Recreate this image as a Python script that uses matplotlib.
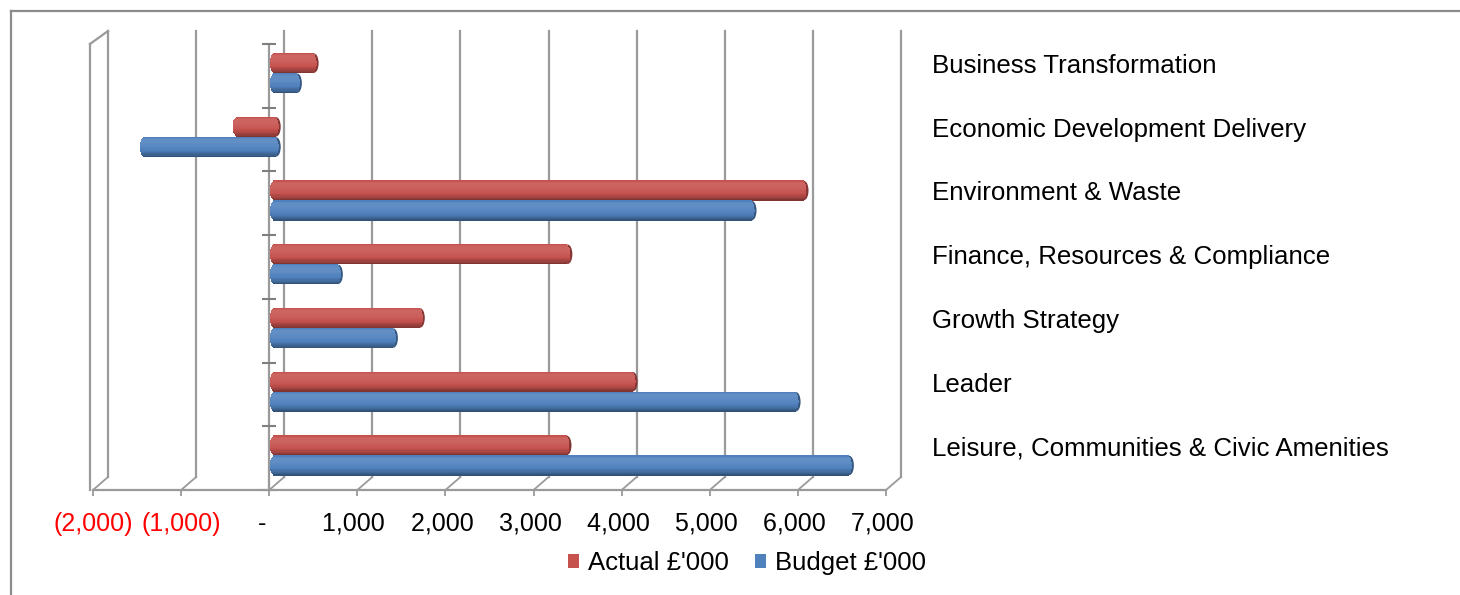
import numpy as np
import matplotlib
matplotlib.use("Agg")
import matplotlib.pyplot as plt
import matplotlib.colors as mcolors
from matplotlib.lines import Line2D
from matplotlib.patches import Ellipse, Patch

plt.rcParams['font.family'] = ['Liberation Sans', 'DejaVu Sans']

# -------------------------------------------------------------
# data (£'000)
# -------------------------------------------------------------
categories = ["Business Transformation", "Economic Development Delivery",
              "Environment & Waste", "Finance, Resources & Compliance",
              "Growth Strategy", "Leader",
              "Leisure, Communities & Civic Amenities"]
actual = [430, -420, 5990, 3310, 1635, 4050, 3300]
budget = [240, -1475, 5400, 705, 1330, 5900, 6505]
series_names = ["Actual £'000", "Budget £'000"]
tick_values = [-2000, -1000, 0, 1000, 2000, 3000, 4000, 5000, 6000, 7000]
tick_labels = ["(2,000)", "(1,000)", "-  ", "1,000 ", "2,000 ", "3,000 ",
               "4,000 ", "5,000 ", "6,000 ", "7,000 "]

RED = "#C6524E"
BLUE = "#4F81BD"
GRID = "#9A9A9A"

W, H = 1460, 595
fig = plt.figure(figsize=(W / 100, H / 100), dpi=100)
ax = fig.add_axes([93 / W, 1 - 490 / H, 793 / W, 446 / H])
ax.set_xlim(tick_values[0], tick_values[-1])
ax.set_ylim(len(categories), 0)
ax.patch.set_visible(False)

# pixel -> data helpers
px_x = (tick_values[-1] - tick_values[0]) / 793
px_y = len(categories) / 446
dx, dy = 15 * px_x, 13 * px_y
n_cat = len(categories)

# --- 3D frame: back gridlines, floor diagonals, side wall
for v in tick_values:
    ax.plot([v + dx, v + dx], [-dy, n_cat - dy], color=GRID, lw=1.6,
            clip_on=False, zorder=1)
    ax.plot([v, v + dx], [n_cat, n_cat - dy], color=GRID, lw=1.3,
            clip_on=False, zorder=1)
x0 = tick_values[0] - 3 * px_x
ax.plot([x0, x0], [0, n_cat], color=GRID, lw=1.6, clip_on=False, zorder=1)
ax.plot([x0, tick_values[0] + dx], [0, -dy], color=GRID, lw=1.6,
        clip_on=False, zorder=1)

# category axis at zero
ax.plot([0, 0], [0, n_cat], color=GRID, lw=1.6, zorder=2, clip_on=False)
ax.plot(np.zeros(n_cat + 1), np.arange(n_cat + 1), ls="none", marker="_",
        markersize=10, markeredgewidth=1.5, color="#7F7F7F", zorder=2,
        clip_on=False)

for side in ["top", "right", "left"]:
    ax.spines[side].set_visible(False)
ax.spines["bottom"].set_color(GRID)
ax.spines["bottom"].set_linewidth(1.6)
ax.set_yticks([])
ax.set_xticks(tick_values)
ax.set_xticklabels(tick_labels, fontsize=18)
ax.tick_params(axis="x", length=4.5, width=1.3, color=GRID, pad=11)
for lab, v in zip(ax.get_xticklabels(), tick_values):
    lab.set_color("#FF0000" if v < 0 else "black")


# --- cylinder bars
def shade(base, t):
    rgb = np.array(mcolors.to_rgb(base))
    f = np.interp(t, [0.0, 0.12, 0.35, 0.65, 0.9, 1.0],
                  [0.95, 1.12, 1.10, 1.0, 0.75, 0.6])
    if f > 1:
        rgb = rgb + (1 - rgb) * (f - 1) * 0.9
    else:
        rgb = rgb * f
    return np.clip(rgb, 0, 1)


bar_h = 0.315
shift = 5 * px_x
cap = 4.5 * px_x
n_slices = 16


def cylinder(y, v, base):
    lo, hi = min(0, v), max(0, v)
    dark = shade(base, 0.95)
    ax.add_patch(Ellipse((hi + shift + 2 * px_x, y), 2 * cap, bar_h * 0.96,
                         facecolor=dark, edgecolor="none", zorder=3))
    for k in range(n_slices):
        t = (k + 0.5) / n_slices
        s = 2 * t - 1
        ext = cap * np.sqrt(max(0.0, 1 - s * s))
        ax.barh(y - bar_h / 2 + t * bar_h, hi - lo + 2 * ext,
                left=lo - ext + shift, height=bar_h / n_slices * 1.15,
                color=shade(base, t), lw=0, zorder=4)


for i in range(n_cat):
    cylinder(i + 0.30, actual[i], RED)
    cylinder(i + 0.615, budget[i], BLUE)

# category labels on the right
label_x = tick_values[0] + (932 - 93) * px_x
for i, name in enumerate(categories):
    ax.text(label_x, i + 0.455, name, fontsize=18.6, va="baseline", ha="left",
            clip_on=False)

# legend
handles = [Patch(facecolor=RED), Patch(facecolor=BLUE)]
fig.legend(handles, series_names, loc="center",
           bbox_to_anchor=(747 / W, 1 - 563 / H), ncol=2, frameon=False,
           fontsize=18.5, handlelength=0.45, handleheight=0.45,
           handletextpad=0.35, columnspacing=1.0)

# outer chart border (top and left visible)
fig.add_artist(Line2D([11 / W, 1], [1 - 11 / H, 1 - 11 / H], color="#8C8C8C",
                      lw=1.6, transform=fig.transFigure))
fig.add_artist(Line2D([11 / W, 11 / W], [0, 1 - 11 / H], color="#8C8C8C",
                      lw=1.6, transform=fig.transFigure))

fig.savefig("out.png", dpi=100)
